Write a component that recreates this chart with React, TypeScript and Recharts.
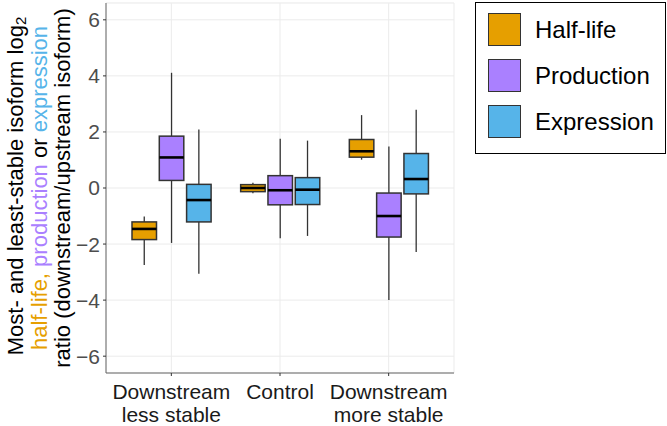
import React from "react";
import {
  ComposedChart,
  Bar,
  XAxis,
  YAxis,
  CartesianGrid,
  Legend,
} from "recharts";

const FONT = '"Liberation Sans", Arial, Helvetica, sans-serif';

// categories on the x axis (two-line tick labels)
const categories = ["less", "control", "more"];
const categoryLabels: Record<string, string[]> = {
  less: ["Downstream", "less stable"],
  control: ["Control"],
  more: ["Downstream", "more stable"],
};

// [lower whisker, Q1, median, Q3, upper whisker] per category
const halfLife = [
  [-2.75, -1.84, -1.46, -1.21, -1.02],
  [-0.19, -0.13, 0.0, 0.12, 0.19],
  [1.01, 1.1, 1.31, 1.73, 2.6],
];
const production = [
  [-1.96, 0.27, 1.09, 1.85, 4.11],
  [-1.79, -0.6, -0.08, 0.44, 1.76],
  [-4.0, -1.75, -1.0, -0.18, 1.48],
];
const expression = [
  [-3.06, -1.21, -0.43, 0.13, 2.09],
  [-1.71, -0.59, -0.06, 0.37, 1.69],
  [-2.28, -0.21, 0.32, 1.23, 2.79],
];

const majorTicks = [-6, -4, -2, 0, 2, 4, 6];
const minorTicks = [-5, -3, -1, 1, 3, 5];

const series = [
  { key: "hl", name: "Half-life", color: "#E69F00", stats: halfLife },
  { key: "prod", name: "Production", color: "#AA80FF", stats: production },
  { key: "expr", name: "Expression", color: "#56B4E9", stats: expression },
];

const data = categories.map((cat, i) => {
  const row: any = { cat };
  series.forEach((s) => {
    row[s.key] = [s.stats[i][1], s.stats[i][3]];
    row[s.key + "Stats"] = s.stats[i];
  });
  return row;
});

// box drawn from the bar's own [Q1, Q3] rectangle; whiskers/median mapped with the same scale
const makeBox = (key: string, fill: string) => (props: any) => {
  const { x, y, width, height, payload } = props;
  const [lo, q1, med, q3, hi] = payload[key + "Stats"];
  const top = Math.min(y, y + height);
  const bottom = Math.max(y, y + height);
  const pxPer = (bottom - top) / (q3 - q1);
  const toY = (v: number) => top + (q3 - v) * pxPer;
  const cx = x + width / 2;
  return (
    <g>
      <line x1={cx} x2={cx} y1={toY(hi)} y2={top} stroke="#333" strokeWidth={1.3} />
      <line x1={cx} x2={cx} y1={bottom} y2={toY(lo)} stroke="#333" strokeWidth={1.3} />
      <rect x={x} y={top} width={width} height={bottom - top} fill={fill} stroke="#333" strokeWidth={1.5} />
      <line x1={x} x2={x + width} y1={toY(med)} y2={toY(med)} stroke="#000" strokeWidth={2.6} />
    </g>
  );
};

const XTick = (props: any) => {
  const { x, y, payload } = props;
  const lines = categoryLabels[payload.value] || [];
  return (
    <text x={x} y={y} textAnchor="middle" fill="#1A1A1A" fontSize={21} fontFamily={FONT}>
      {lines.map((l, i) => (
        <tspan key={i} x={x} dy={i === 0 ? 21 : 23}>
          {l}
        </tspan>
      ))}
    </text>
  );
};

const fmtY = (v: number) => (v < 0 ? "\u2212" + Math.abs(v) : String(v));

const YTitle = () => (
  <g fontFamily={FONT} fontSize={22} textAnchor="middle">
    <text transform="translate(15,186) rotate(-90)" dominantBaseline="central" fill="#000">
      Most- and least-stable isoform log
      <tspan fontSize={15} dy={5}>2</tspan>
    </text>
    <text transform="translate(38.5,188) rotate(-90)" dominantBaseline="central">
      <tspan fill="#E69F00">half-life, </tspan>
      <tspan fill="#AA80FF">production</tspan>
      <tspan fill="#000"> or </tspan>
      <tspan fill="#56B4E9">expression</tspan>
    </text>
    <text transform="translate(62,188) rotate(-90)" dominantBaseline="central" fill="#000">
      ratio (downstream/upstream isoform)
    </text>
  </g>
);

const LegendBox = () => (
  <div
    style={{
      position: "relative",
      width: 191,
      height: 152,
      boxSizing: "border-box",
      border: "1.5px solid #000",
      background: "#fff",
      fontFamily: FONT,
    }}
  >
    {series.map((s, i) => (
      <div key={s.key}>
        <div
          style={{
            position: "absolute",
            left: 12,
            top: 10 + i * 46,
            width: 33,
            height: 33,
            boxSizing: "border-box",
            background: s.color,
            border: "1.2px solid #333",
          }}
        />
        <div
          style={{
            position: "absolute",
            left: 59,
            top: 10 + i * 46,
            height: 33,
            lineHeight: "33px",
            fontSize: 24,
            color: "#000",
            whiteSpace: "nowrap",
          }}
        >
          {s.name}
        </div>
      </div>
    ))}
  </div>
);

export default function App() {
  return (
    <div style={{ position: "absolute", left: 0, top: 0, width: 667, height: 426, background: "#fff" }}>
      <ComposedChart
        width={667}
        height={426}
        data={data}
        margin={{ top: 3, right: 213, bottom: 0, left: 0 }}
        barSize={24.5}
        barGap={2.8}
      >
        <CartesianGrid stroke="#EBEBEB" strokeWidth={1} yAxisId="main" xAxisId="main" />
        <CartesianGrid stroke="#F0F0F0" strokeWidth={0.6} vertical={false} yAxisId="minor" xAxisId="main" />
        <XAxis
          xAxisId="main"
          dataKey="cat"
          type="category"
          padding={{ left: 11, right: 11 }}
          height={53}
          tickSize={3}
          tickLine={{ stroke: "#333" }}
          axisLine={{ stroke: "#666" }}
          tick={<XTick />}
          interval={0}
        />
        <XAxis
          xAxisId="top"
          dataKey="cat"
          orientation="top"
          height={0}
          tick={false}
          tickLine={false}
          axisLine={{ stroke: "#666" }}
        />
        <YAxis
          yAxisId="main"
          type="number"
          domain={[-6.6, 6.6]}
          allowDataOverflow
          ticks={majorTicks}
          width={106}
          tickSize={3}
          tickMargin={3}
          tickLine={{ stroke: "#333" }}
          axisLine={{ stroke: "#666" }}
          tick={{ fill: "#4D4D4D", fontSize: 21, fontFamily: FONT }}
          tickFormatter={fmtY}
          label={<YTitle />}
        />
        <YAxis
          yAxisId="minor"
          orientation="right"
          type="number"
          domain={[-6.6, 6.6]}
          allowDataOverflow
          ticks={minorTicks}
          width={0}
          tick={false}
          tickLine={false}
          axisLine={{ stroke: "#666" }}
        />
        <Legend
          layout="vertical"
          align="center"
          verticalAlign="middle"
          wrapperStyle={{ left: 475, top: 2, width: 191 }}
          content={<LegendBox />}
        />
        {series.map((s) => (
          <Bar
            key={s.key}
            dataKey={s.key}
            name={s.name}
            xAxisId="main"
            yAxisId="main"
            fill={s.color}
            shape={makeBox(s.key, s.color)}
            isAnimationActive={false}
          />
        ))}
      </ComposedChart>
    </div>
  );
}
